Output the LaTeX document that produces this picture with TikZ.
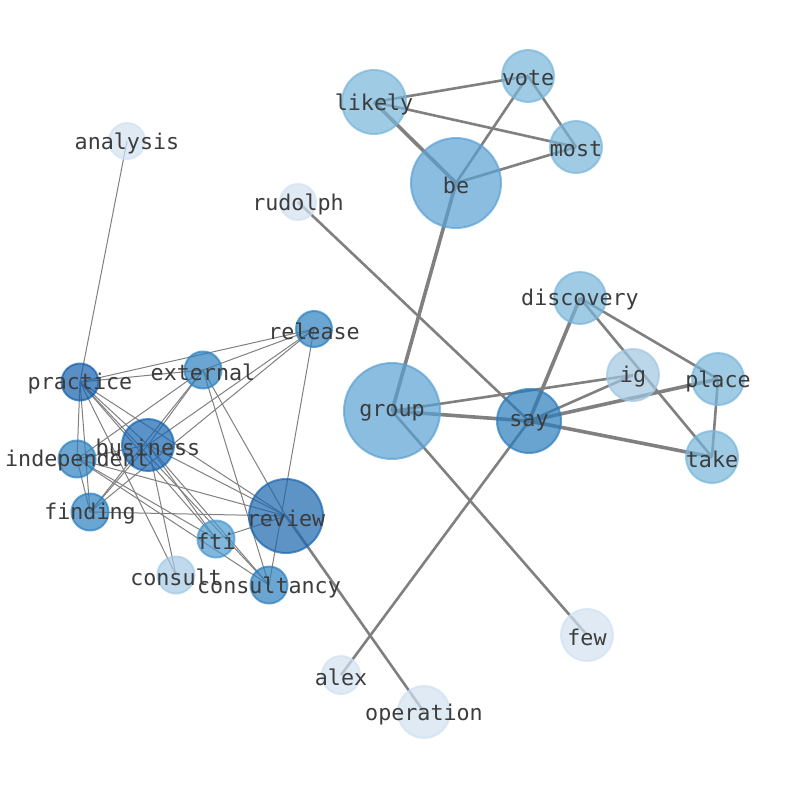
\documentclass[tikz,border=0pt]{standalone}
\usepackage{fontspec}
\setmainfont{DejaVu Sans Mono}
\usetikzlibrary{backgrounds}
\definecolor{cA}{RGB}{89,161,211}
\definecolor{cB}{RGB}{119,181,218}
\definecolor{cC}{RGB}{42,124,188}
\definecolor{cD}{RGB}{26,101,174}
\definecolor{cE}{RGB}{19,95,172}
\definecolor{cF}{RGB}{21,101,178}
\definecolor{cG}{RGB}{44,128,192}
\definecolor{cH}{RGB}{72,152,207}
\definecolor{cI}{RGB}{161,198,225}
\definecolor{cJ}{RGB}{165,201,228}
\definecolor{cK}{RGB}{209,225,241}
\definecolor{txt}{RGB}{60,60,60}
\definecolor{edg}{RGB}{128,128,128}
\tikzset{
  nd/.style={circle, inner sep=0pt, line width=2pt, fill opacity=0.7, draw opacity=0.7,
    label={[text opacity=1, text=txt, yshift=-2pt, font=\fontsize{21.7}{24}\selectfont]center:#1}},
  thin/.style={draw=edg, line width=1pt},
  med/.style={draw=edg, line width=2.6pt},
  thk/.style={draw=edg, line width=3.6pt},
}
\begin{document}
\begin{tikzpicture}[x=1pt,y=-1pt]
\useasboundingbox (0,0) rectangle (794,790);
% nodes
\node[nd=analysis, minimum size=36pt, fill=cK, draw=cK] (analysis) at (127,141) {};
\node[nd=rudolph, minimum size=36pt, fill=cK, draw=cK] (rudolph) at (298,202) {};
\node[nd=likely, minimum size=64pt, fill=cB, draw=cB] (likely) at (374,102) {};
\node[nd=vote, minimum size=52pt, fill=cB, draw=cB] (vote) at (528,76) {};
\node[nd=most, minimum size=52pt, fill=cB, draw=cB] (most) at (576,147) {};
\node[nd=be, minimum size=90pt, fill=cA, draw=cA] (be) at (456,183) {};
\node[nd=discovery, minimum size=52pt, fill=cB, draw=cB] (discovery) at (580,298) {};
\node[nd=ig, minimum size=52pt, fill=cI, draw=cI] (ig) at (633,375) {};
\node[nd=place, minimum size=52pt, fill=cB, draw=cB] (place) at (718,379) {};
\node[nd=take, minimum size=52pt, fill=cB, draw=cB] (take) at (712,457) {};
\node[nd=group, minimum size=96pt, fill=cA, draw=cA] (group) at (392,411) {};
\node[nd=say, minimum size=64pt, fill=cC, draw=cC] (say) at (529,421) {};
\node[nd=few, minimum size=52pt, fill=cK, draw=cK] (few) at (587,635) {};
\node[nd=alex, minimum size=38pt, fill=cK, draw=cK] (alex) at (341,675) {};
\node[nd=operation, minimum size=52pt, fill=cK, draw=cK] (operation) at (424,712) {};
\node[nd=release, minimum size=36pt, fill=cG, draw=cG] (release) at (314,329) {};
\node[nd=external, minimum size=37pt, fill=cG, draw=cG] (external) at (203,370) {};
\node[nd=practice, minimum size=37pt, fill=cE, draw=cE] (practice) at (80,382) {};
\node[nd=business, minimum size=52pt, fill=cF, draw=cF] (business) at (148,445) {};
\node[nd=independent, minimum size=37pt, fill=cG, draw=cG] (independent) at (77,459) {};
\node[nd=finding, minimum size=37pt, fill=cG, draw=cG] (finding) at (90,512) {};
\node[nd=review, minimum size=74pt, fill=cD, draw=cD] (review) at (286,516) {};
\node[nd=fti, minimum size=37pt, fill=cH, draw=cH] (fti) at (216,539) {};
\node[nd=consult, minimum size=37pt, fill=cJ, draw=cJ] (consult) at (176,575) {};
\node[nd=consultancy, minimum size=37pt, fill=cG, draw=cG] (consultancy) at (269,585) {};
% edges
\begin{scope}[on background layer]
\draw[med] (likely.center) -- (vote.center);
\draw[med] (likely.center) -- (most.center);
\draw[thk] (likely.center) -- (be.center);
\draw[med] (vote.center) -- (be.center);
\draw[med] (vote.center) -- (most.center);
\draw[med] (be.center) -- (most.center);
\draw[thk] (be.center) -- (group.center);
\draw[med] (rudolph.center) -- (say.center);
\draw[thk] (discovery.center) -- (say.center);
\draw[med] (discovery.center) -- (place.center);
\draw[med] (discovery.center) -- (take.center);
\draw[med] (group.center) -- (ig.center);
\draw[thk] (group.center) -- (say.center);
\draw[med] (group.center) -- (few.center);
\draw[med] (say.center) -- (ig.center);
\draw[thk] (say.center) -- (place.center);
\draw[thk] (say.center) -- (take.center);
\draw[med] (say.center) -- (alex.center);
\draw[med] (place.center) -- (take.center);
\draw[med] (review.center) -- (operation.center);
\draw[thin] (analysis.center) -- (practice.center);
\foreach \t in {external,release,independent,finding,business,review,fti,consultancy,consult}
  \draw[thin] (practice.center) -- (\t.center);
\foreach \t in {release,business,finding,independent,review,consultancy}
  \draw[thin] (external.center) -- (\t.center);
\foreach \t in {business,finding,consultancy}
  \draw[thin] (release.center) -- (\t.center);
\foreach \t in {independent,finding,review,fti,consultancy,consult}
  \draw[thin] (business.center) -- (\t.center);
\foreach \t in {finding,review,fti,consultancy}
  \draw[thin] (independent.center) -- (\t.center);
\draw[thin] (finding.center) -- (review.center);
\draw[thin] (fti.center) -- (review.center);
\end{scope}
\end{tikzpicture}
\end{document}
